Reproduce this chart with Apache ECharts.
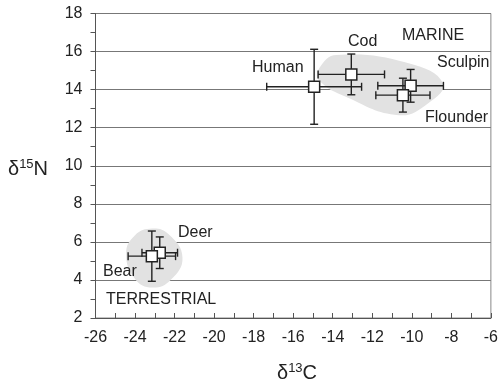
<!DOCTYPE html>
<html>
<head>
<meta charset="utf-8">
<script src="https://cdn.jsdelivr.net/npm/echarts@6/dist/echarts.min.js"></script>
<style>
  html, body { margin: 0; padding: 0; background: #fff; }
  #main { width: 501px; height: 385px; }
</style>
</head>
<body>
<div id="main"></div>
<script>
// 数据
var names  = ['Human', 'Cod', 'Sculpin', 'Flounder', 'Deer', 'Bear'];
var d13C   = [-14.94, -13.06, -10.06, -10.45, -22.75, -23.15];
var d15N   = [14.15, 14.8, 14.2, 13.71, 5.43, 5.25];
var errC   = [2.4, 1.68, 1.66, 1.37, 0.9, 1.2];
var errN   = [1.97, 1.07, 0.86, 0.89, 0.83, 1.32];

// gray group outlines (data coords)
var marineBlob = [[-14.65, 15.18], [-13.8, 15.82], [-10.16, 15.39], [-8.42, 14.34],
                  [-9.17, 13.29], [-10.66, 12.66], [-13.31, 13.61], [-14.7, 14.5]];
var terrBlob   = [[-23.13, 6.7], [-22.3, 6.4], [-21.6, 5.18], [-22.2, 4.0],
                  [-23.13, 3.6], [-24.0, 4.05], [-24.45, 5.39], [-24.0, 6.35]];
var blobs = [marineBlob, terrBlob];

var xTicks = {min: -26, max: -6, interval: 2};
var yTicks = {min: 2, max: 18, interval: 2};

var font = 'Liberation Sans, Arial, sans-serif';
var ink = '#222';

var points = [];
var bars = [];
for (var i = 0; i < names.length; i++) {
    points.push([d13C[i], d15N[i], names[i]]);
    bars.push([d13C[i], d15N[i], errC[i], errN[i]]);
}

var myChart = echarts.init(document.getElementById('main'));

function label(txt, x, y) {
    return {type: 'text', left: x, top: y, z: 100, style: {text: txt, font: '16px ' + font, fill: ink}};
}

var option = {
    animation: false,
    grid: {
        left: 95.5, right: 4, top: 13.5, bottom: 67,
        show: true, borderColor: '#888', borderWidth: 1
    },
    xAxis: {
        type: 'value',
        min: xTicks.min, max: xTicks.max, interval: xTicks.interval,
        axisLine: {onZero: false, lineStyle: {color: '#555'}},
        axisTick: {inside: true, length: 5, lineStyle: {color: '#555'}},
        minorTick: {show: true, splitNumber: 2, length: 5, lineStyle: {color: '#555'}},
        axisLabel: {color: ink, fontFamily: font, fontSize: 16, margin: 12},
        splitLine: {show: false}
    },
    yAxis: {
        type: 'value',
        min: yTicks.min, max: yTicks.max, interval: yTicks.interval,
        axisLine: {show: true, onZero: false, lineStyle: {color: '#555'}},
        axisTick: {show: true, length: 5, lineStyle: {color: '#555'}},
        minorTick: {show: true, splitNumber: 2, length: 5, lineStyle: {color: '#555'}},
        axisLabel: {color: ink, fontFamily: font, fontSize: 16, margin: 13},
        splitLine: {show: true, lineStyle: {color: '#777', width: 1}}
    },
    graphic: [
        {type: 'text', left: 8, top: 158, z: 100, style: {
            text: '{b|δ}{s|15}{b|N}',
            rich: {
                b: {fontFamily: font, fontSize: 20, fill: ink},
                s: {fontFamily: font, fontSize: 13, fill: ink, padding: [0, 0, 9, 0]}
            }
        }},
        {type: 'text', left: 277, top: 362, z: 100, style: {
            text: '{b|δ}{s|13}{b|C}',
            rich: {
                b: {fontFamily: font, fontSize: 20, fill: ink},
                s: {fontFamily: font, fontSize: 13, fill: ink, padding: [0, 0, 9, 0]}
            }
        }},
        label('Human', 252, 60),
        label('Cod', 348, 34),
        label('MARINE', 402, 28),
        label('Sculpin', 437, 55),
        label('Flounder', 425, 110),
        label('Deer', 178, 225),
        label('Bear', 103, 264),
        label('TERRESTRIAL', 106, 292)
    ],
    series: [
        {
            // 灰色区域
            type: 'custom',
            z: 1,
            data: [0, 1],
            renderItem: function(params, api) {
                var pts = blobs[params.dataIndex].map(function(p) { return api.coord(p); });
                return {
                    type: 'polygon',
                    shape: {points: pts, smooth: 0.45},
                    style: {fill: '#e2e2e2', stroke: null}
                };
            }
        },
        {
            // error bars
            type: 'custom',
            z: 2,
            data: bars,
            renderItem: function(params, api) {
                var x = api.value(0), y = api.value(1), ex = api.value(2), ey = api.value(3);
                var l = api.coord([x - ex, y]), r = api.coord([x + ex, y]);
                var t = api.coord([x, y + ey]), b = api.coord([x, y - ey]);
                var c = 4;
                var st = {stroke: ink, lineWidth: 1.4};
                return {
                    type: 'group',
                    children: [
                        {type: 'line', shape: {x1: l[0], y1: l[1], x2: r[0], y2: r[1]}, style: st},
                        {type: 'line', shape: {x1: l[0], y1: l[1] - c, x2: l[0], y2: l[1] + c}, style: st},
                        {type: 'line', shape: {x1: r[0], y1: r[1] - c, x2: r[0], y2: r[1] + c}, style: st},
                        {type: 'line', shape: {x1: t[0], y1: t[1], x2: b[0], y2: b[1]}, style: st},
                        {type: 'line', shape: {x1: t[0] - c, y1: t[1], x2: t[0] + c, y2: t[1]}, style: st},
                        {type: 'line', shape: {x1: b[0] - c, y1: b[1], x2: b[0] + c, y2: b[1]}, style: st}
                    ]
                };
            }
        },
        {
            type: 'scatter',
            z: 3,
            symbol: 'rect',
            symbolSize: 11,
            itemStyle: {color: '#fff', borderColor: ink, borderWidth: 1.5, opacity: 1},
            data: points
        }
    ]
};

myChart.setOption(option);
</script>
</body>
</html>
